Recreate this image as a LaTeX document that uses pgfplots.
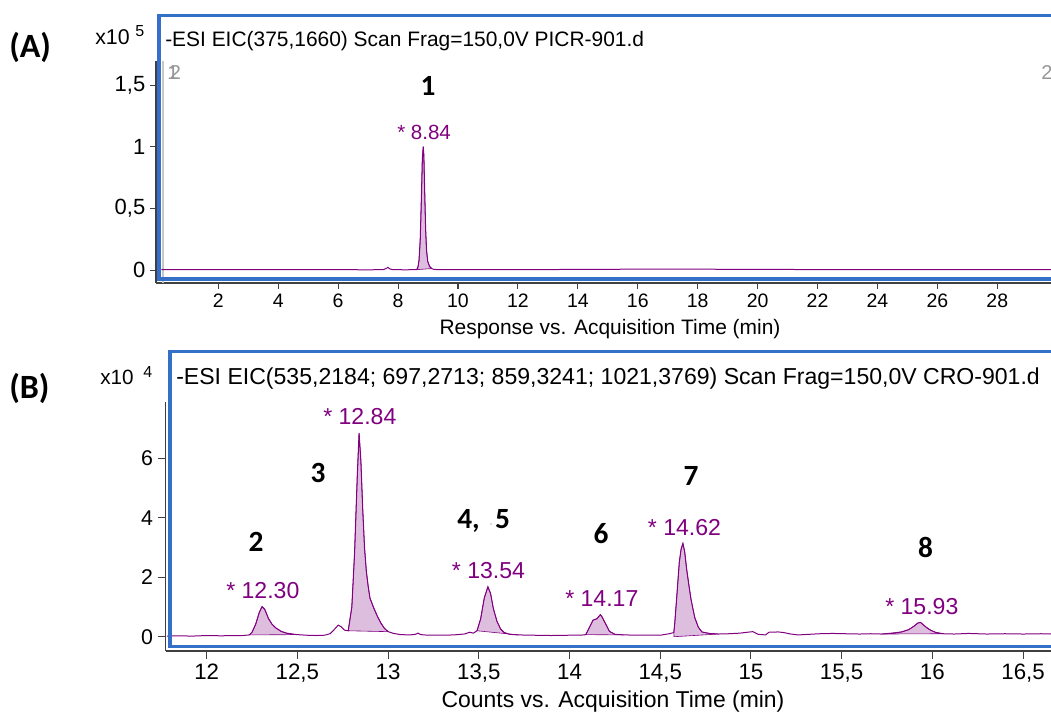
\documentclass[border=0pt]{standalone}
\usepackage{fontspec}
\setmainfont{Liberation Sans}
\newfontfamily\labfont{Carlito}
\usepackage{pgfplots}
\usepackage{pgfplotstable}
\pgfplotsset{compat=1.18}

\definecolor{trace}{RGB}{128,0,128}
\definecolor{peakfill}{RGB}{222,190,222}
\definecolor{frameblue}{RGB}{52,112,200}
\definecolor{markergray}{RGB}{150,150,150}

% EIC m/z 375,1660 (PICR-901)
\pgfplotstableread{
t y
0.10 0.004
1.00 0.003
2.00 0.004
3.00 0.003
4.00 0.004
5.00 0.003
6.00 0.003
7.00 0.002
7.50 0.003
7.60 0.012
7.66 0.022
7.72 0.010
7.80 0.004
8.20 0.002
8.62 0.003
8.66 0.020
8.70 0.080
8.74 0.250
8.78 0.600
8.81 0.900
8.84 1.000
8.86 0.930
8.89 0.620
8.92 0.330
8.95 0.160
8.99 0.070
9.05 0.030
9.12 0.012
9.20 0.005
9.40 0.003
11.0 0.003
13.0 0.004
14.0 0.005
15.0 0.006
16.0 0.007
17.0 0.008
18.0 0.007
19.0 0.006
20.0 0.005
22.0 0.004
24.0 0.004
26.0 0.004
28.0 0.004
29.8 0.004
}\traceA

% EIC m/z 535,2184; 697,2713; 859,3241; 1021,3769 (CRO-901)
\pgfplotstableread{
t y
11.78 0.02
11.85 0.03
11.92 0.02
12.00 0.04
12.08 0.03
12.15 0.04
12.20 0.04
12.235 0.06
12.25 0.15
12.27 0.42
12.29 0.82
12.305 1.01
12.32 0.92
12.34 0.62
12.36 0.42
12.38 0.30
12.41 0.18
12.44 0.12
12.47 0.09
12.50 0.07
12.55 0.05
12.60 0.04
12.65 0.05
12.68 0.10
12.70 0.22
12.725 0.39
12.74 0.34
12.76 0.22
12.78 0.20
12.80 1.00
12.815 2.80
12.83 5.40
12.84 6.85
12.85 5.90
12.86 4.30
12.87 3.00
12.88 2.20
12.89 1.70
12.90 1.30
12.92 0.98
12.94 0.70
12.96 0.46
12.98 0.28
13.00 0.17
13.03 0.11
13.07 0.07
13.12 0.06
13.15 0.08
13.165 0.12
13.18 0.07
13.22 0.05
13.30 0.05
13.36 0.06
13.42 0.09
13.45 0.15
13.47 0.12
13.49 0.20
13.51 0.60
13.53 1.30
13.55 1.68
13.565 1.45
13.58 0.95
13.60 0.52
13.62 0.26
13.64 0.14
13.67 0.08
13.72 0.06
13.80 0.05
13.90 0.04
14.00 0.05
14.06 0.05
14.09 0.07
14.11 0.32
14.13 0.56
14.15 0.60
14.17 0.74
14.18 0.66
14.20 0.42
14.22 0.18
14.25 0.08
14.30 0.06
14.40 0.05
14.50 0.05
14.55 0.10
14.575 0.14
14.58 0.45
14.59 1.25
14.605 2.50
14.615 2.95
14.625 3.14
14.635 2.85
14.645 2.30
14.66 1.65
14.67 1.25
14.69 0.65
14.71 0.32
14.73 0.16
14.77 0.11
14.82 0.09
14.88 0.10
14.94 0.12
14.98 0.15
15.01 0.17
15.04 0.08
15.08 0.06
15.10 0.15
15.15 0.16
15.18 0.14
15.22 0.09
15.26 0.06
15.32 0.08
15.38 0.10
15.45 0.11
15.52 0.10
15.60 0.09
15.66 0.10
15.72 0.09
15.78 0.12
15.83 0.16
15.87 0.24
15.90 0.36
15.92 0.46
15.935 0.48
15.95 0.40
15.97 0.30
15.99 0.22
16.02 0.14
16.06 0.10
16.12 0.09
16.20 0.11
16.30 0.09
16.40 0.10
16.50 0.09
16.60 0.10
16.66 0.09
}\traceB

\pgfplotsset{
  chrom/.style={
    scale only axis,
    anchor=south west,
    axis x line*=bottom,
    axis y line*=left,
    axis line style={-, black!75, line width=0.8pt},
    tick style={black!75, line width=0.8pt},
    tick align=outside,
    /pgf/number format/assume math mode=true,
    clip=true,
  },
  peak/.style={fill=peakfill, draw=trace, line width=0.45pt},
  line/.style={trace, line width=0.75pt},
}

\begin{document}
\begin{tikzpicture}

% ---------- (A) ----------
\begin{axis}[chrom,
  at={(117pt,322.5pt)},
  width=671.25pt, height=166.5pt,
  xmin=-0.08, xmax=29.793,
  ymin=-0.105, ymax=1.695,
  xtick={2,4,...,28},
  ytick={0,0.5,1,1.5},
  yticklabels={0,{0,5},1,{1,5}},
  major tick length=4.5pt,
  xticklabel style={font=\fontsize{14.6}{16}\selectfont},
  yticklabel style={font=\fontsize{16.5}{18}\selectfont},
]
  \draw[black!22, line width=1.1pt] (axis cs:0.15,-0.105) -- (axis cs:0.15,1.695);
  \addplot[peak] table[restrict x to domain=8.62:9.16] {\traceA} -- cycle;
  \addplot[line] table {\traceA};
\end{axis}

% ---------- (B) ----------
\begin{axis}[chrom,
  at={(124.275pt,46.5pt)},
  width=663.975pt, height=186.975pt,
  xmin=11.774, xmax=16.654,
  ymin=-0.481, ymax=7.912,
  xtick={12,12.5,...,16.5},
  xticklabels={12,{12,5},13,{13,5},14,{14,5},15,{15,5},16,{16,5}},
  ytick={0,2,4,6},
  major tick length=6pt,
  xticklabel style={font=\fontsize{16.7}{18}\selectfont},
  yticklabel style={font=\fontsize{16}{18}\selectfont},
]
  \addplot[peak] table[restrict x to domain=12.235:12.50] {\traceB} -- cycle;
  \addplot[peak] table[restrict x to domain=12.78:13.00] {\traceB} -- cycle;
  \addplot[peak] table[restrict x to domain=13.49:13.72] {\traceB} -- cycle;
  \addplot[peak] table[restrict x to domain=14.09:14.30] {\traceB} -- cycle;
  \addplot[peak] table[restrict x to domain=14.575:14.82] {\traceB} -- (axis cs:14.576,0) -- cycle;
  \addplot[peak] table[restrict x to domain=15.72:16.06] {\traceB} -- cycle;
  \addplot[line] table {\traceB};
\end{axis}

% frames, titles and annotations (pixel grid, origin top left)
\begin{scope}[shift={(0pt,534.75pt)}, x=0.75pt, y=-0.75pt]
  \draw[frameblue, line width=2.8pt] (1070,15.5) -- (158.7,15.5) -- (158.7,279.3) -- (1070,279.3);
  \draw[frameblue, line width=2.8pt] (1070,351.5) -- (170,351.5) -- (170,646.5) -- (1070,646.5);

  \node[anchor=base west, inner sep=0] at (9,58) {\labfont\bfseries\fontsize{25.5}{28}\selectfont (A)};
  \node[anchor=base west, inner sep=0] at (9,399) {\labfont\bfseries\fontsize{25.5}{28}\selectfont (B)};

  \node[anchor=base west, inner sep=0] at (95,45) {\fontsize{16}{18}\selectfont x10};
  \node[anchor=base west, inner sep=0] at (135,37) {\fontsize{12}{14}\selectfont 5};
  \node[anchor=base west, inner sep=0] at (100,385) {\fontsize{15.5}{18}\selectfont x10};
  \node[anchor=base west, inner sep=0] at (143,378) {\fontsize{12}{14}\selectfont 4};

  \node[anchor=base west, inner sep=0] at (165,46.7) {\fontsize{15.7}{18}\selectfont -ESI EIC(375,1660) Scan Frag=150,0V PICR-901.d};
  \node[anchor=base west, inner sep=0] at (176,385) {\fontsize{17.3}{20}\selectfont -ESI EIC(535,2184; 697,2713; 859,3241; 1021,3769) Scan Frag=150,0V CRO-901.d};

  \node[anchor=base west, inner sep=0, text=markergray] at (167,80) {\fontsize{15}{16}\selectfont 1};
  \node[anchor=base west, inner sep=0, text=markergray] at (169.5,80) {\fontsize{15}{16}\selectfont 2};
  \node[anchor=base west, inner sep=0, text=markergray] at (1041,80) {\fontsize{15}{16}\selectfont 2};

  \node[anchor=base, inner sep=0] at (610,334.3) {\fontsize{15.7}{18}\selectfont Response vs. Acquisition Time (min)};
  \node[anchor=base, inner sep=0] at (613,708) {\fontsize{17.2}{20}\selectfont Counts vs. Acquisition Time (min)};

  % compound numbers
  \begin{scope}[every node/.style={anchor=base, inner sep=0, font=\labfont\bfseries\fontsize{22}{24}\selectfont}]
    \node at (428,96) {1};
    \node at (256,551.7) {2};
    \node at (318,483) {3};
    \node[anchor=base west] at (457,529) {4,};
    \node at (502.5,529) {5};
    \node at (601,543.3) {6};
    \node at (691,486) {7};
    \node at (925.5,557.3) {8};
  \end{scope}
  \fill[black!60] (491,524) circle (0.7);

  % retention times
  \begin{scope}[every node/.style={anchor=base west, inner sep=0, text=trace}]
    \node[font=\fontsize{15.4}{18}\selectfont] at (397,140) {* 8.84};
    \node[font=\fontsize{17.3}{20}\selectfont] at (226,599) {* 12.30};
    \node[font=\fontsize{17.3}{20}\selectfont] at (323,425) {* 12.84};
    \node[font=\fontsize{17.3}{20}\selectfont] at (451.7,579) {* 13.54};
    \node[font=\fontsize{17.3}{20}\selectfont] at (565,606.7) {* 14.17};
    \node[font=\fontsize{17.3}{20}\selectfont] at (647.7,535.7) {* 14.62};
    \node[font=\fontsize{17.3}{20}\selectfont] at (885,615) {* 15.93};
  \end{scope}
\end{scope}

\pgfresetboundingbox
\path[use as bounding box] (0pt,0pt) rectangle (788.25pt,534.75pt);
\end{tikzpicture}
\end{document}
